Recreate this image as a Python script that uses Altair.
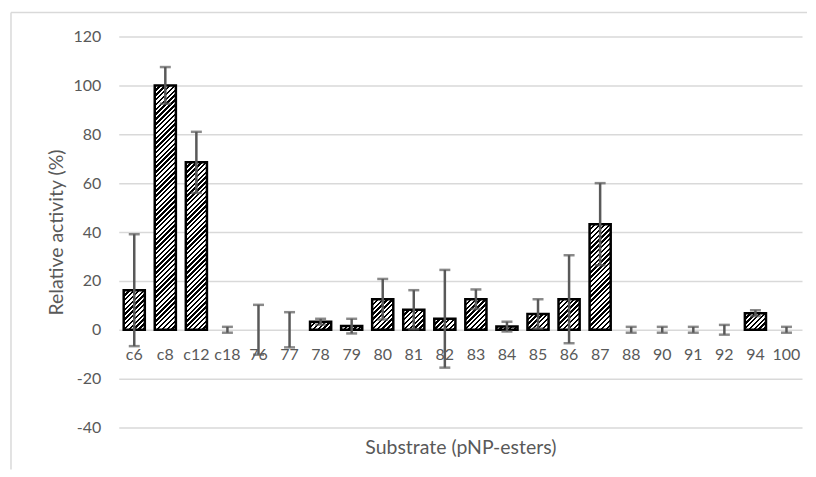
import altair as alt
import pandas as pd

categories = ["c6", "c8", "c12", "c18", "76", "77", "78", "79", "80", "81", "82",
              "83", "84", "85", "86", "87", "88", "90", "91", "92", "94", "100"]
values = [16.2, 100, 68.5, 0, 0, 0, 3.3, 1.5, 12.5, 8.2, 4.5,
          12.5, 1.3, 6.5, 12.5, 43.2, 0, 0, 0, 0, 6.8, 0]
errors = [22.9, 7.5, 12.5, 1.2, 10.2, 7.2, 1.2, 3.0, 8.3, 8.0, 20.0,
          4.0, 2.0, 6.0, 18.0, 16.8, 1.2, 1.2, 1.2, 2.0, 1.2, 1.2]
y_ticks = [-40, -20, 0, 20, 40, 60, 80, 100, 120]

df = pd.DataFrame({
    "cat": categories,
    "v": values,
    "lo": [v - e for v, e in zip(values, errors)],
    "hi": [v + e for v, e in zip(values, errors)],
})

W_PLOT = 685
H_PLOT = 392
FONT = "Lato"
GRAY = "#595959"
GRID = "#d9d9d9"

# diagonal hatch via a striped linear gradient sized per bar
N = 66
L = 225.0
white_frac = 0.5
stop_parts = []
for k in range(N):
    a = k / N
    b = (k + 1 - white_frac) / N
    c = (k + 1) / N
    stop_parts.append("{'offset':%.5f,'color':'#000000'}" % a)
    stop_parts.append("{'offset':%.5f,'color':'#000000'}" % b)
    stop_parts.append("{'offset':%.5f,'color':'#ffffff'}" % b)
    stop_parts.append("{'offset':%.5f,'color':'#ffffff'}" % c)
Wx = "bandwidth('x')"
Hx = "abs(scale('y', datum.v) - scale('y', 0))"
Sx = "(1.41421*%.1f/(%s*%s+%s*%s))" % (L, Wx, Wx, Hx, Hx)
hatch_expr = ("{'gradient':'linear','x1':0,'y1':0,'x2':" + Wx + "*" + Sx +
              ",'y2':" + Hx + "*" + Sx + ",'stops':[" + ",".join(stop_parts) + "]}")

x_enc = alt.X(
    "cat:N", sort=categories,
    scale=alt.Scale(paddingInner=0.32, paddingOuter=0.16),
    axis=alt.Axis(
        title="Substrate (pNP-esters)", labelAngle=0, ticks=False, domain=False,
        grid=False, labelColor=GRAY, labelFont=FONT, labelFontSize=16,
        labelPadding=17, offset={"expr": "scale('y', 0) - height"},
        titleColor=GRAY, titleFont=FONT, titleFontSize=19.5, titleFontWeight="normal",
        titleBaseline="alphabetic", titleY=124,
    ),
)
y_scale = alt.Scale(domain=[-40, 120], nice=False, zero=False)
y_axis = alt.Axis(
    title="Relative activity (%)", values=y_ticks, ticks=False, domain=False,
    grid=True, gridColor=GRID, gridWidth=1.5, labelColor=GRAY, labelFont=FONT,
    labelFontSize=16, labelPadding=18, labelExpr="'' + datum.value",
    titleColor=GRAY, titleFont=FONT,
    titleFontSize=19.5, titleFontWeight="normal", titlePadding=7,
)

base = alt.Chart(df)

bars = base.transform_filter("datum.v > 0").mark_bar(
    fill={"expr": hatch_expr}, stroke="#000000", strokeWidth=2.5
).encode(
    x=x_enc,
    y=alt.Y("v:Q", scale=y_scale, axis=y_axis),
    y2=alt.datum(0),
)

rules = base.mark_rule(color=GRAY, strokeWidth=2.5).encode(
    x=alt.X("cat:N", sort=categories),
    y="lo:Q",
    y2="hi:Q",
)
caps_hi = base.mark_tick(color=GRAY, size=11, thickness=2.5, orient="horizontal").encode(
    x=alt.X("cat:N", sort=categories), y="hi:Q"
)
caps_lo = base.mark_tick(color=GRAY, size=11, thickness=2.5, orient="horizontal").encode(
    x=alt.X("cat:N", sort=categories), y="lo:Q"
)

frame_df = pd.DataFrame({"k": [0]})
frame_top = alt.Chart(frame_df).mark_rule(color=GRID, strokeWidth=1.5).encode(
    x=alt.value(-108), x2=alt.value(690), y=alt.value(-24)
)
frame_left = alt.Chart(frame_df).mark_rule(color=GRID, strokeWidth=1.5).encode(
    x=alt.value(-108), y=alt.value(-24), y2=alt.value(H_PLOT + 42)
)

chart = alt.layer(frame_top, frame_left, bars, rules, caps_hi, caps_lo).properties(
    width=W_PLOT, height=H_PLOT, background="#ffffff",
    padding={"left": 2, "top": 3, "right": 0, "bottom": 0},
).configure_view(stroke="transparent", strokeWidth=0)

chart.save("out.html", embed_options={"renderer": "svg", "actions": False})
